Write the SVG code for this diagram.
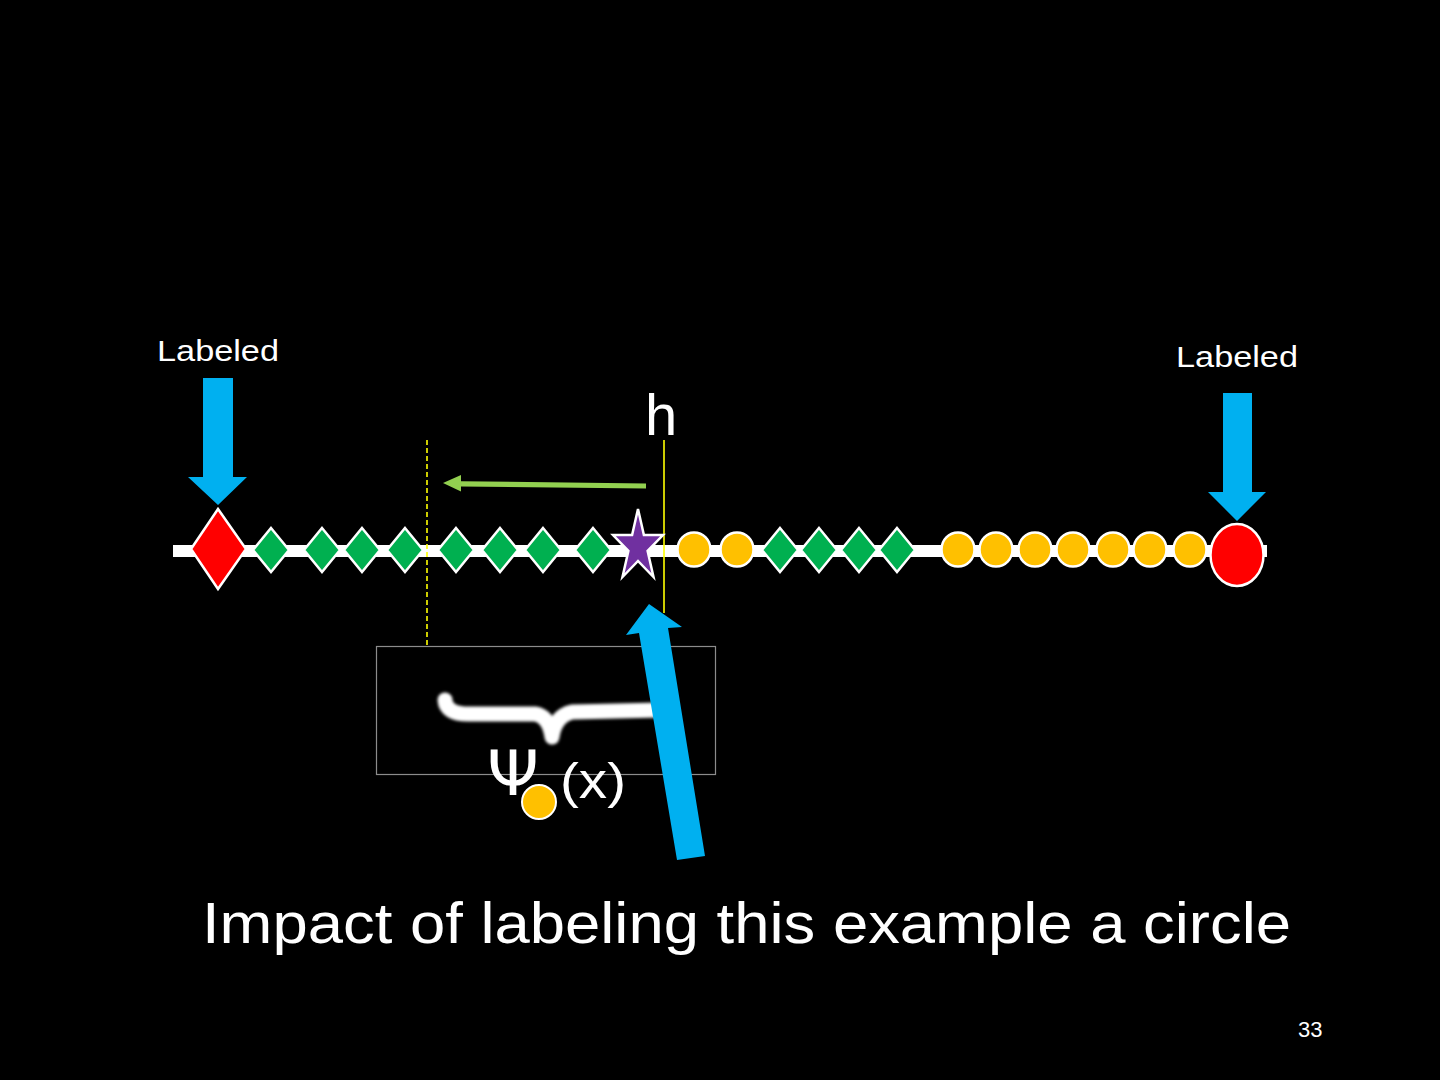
<svg xmlns="http://www.w3.org/2000/svg" width="1440" height="1080" viewBox="0 0 1440 1080">
<defs>
<style>
.txt{font-family:"Liberation Sans",Arial,sans-serif;fill:#fff}
.gd{fill:#00B050;stroke:#fff;stroke-width:2.5}
.oc{fill:#FFC000;stroke:#fff;stroke-width:2.5}
.blue{fill:#00B0F0}
</style>
<filter id="blur" x="-10%" y="-50%" width="120%" height="200%"><feGaussianBlur stdDeviation="1.6"/></filter>
</defs>
<rect width="1440" height="1080" fill="#000"/>
<g id="axis"><rect x="173" y="545" width="1094" height="12" fill="#fff"/></g>
<g id="box"><rect x="376.5" y="646.5" width="339" height="128" fill="none" stroke="#8c8c8c" stroke-width="1.2"/></g>
<g id="brace"><path d="M445,700 Q446,714 468,714 L535,714 Q549,716 552,737 Q555,716 572,712 L660,710" fill="none" stroke="#fff" stroke-width="15" stroke-linecap="round" stroke-linejoin="round" filter="url(#blur)"/></g>
<g id="connectors">
<line x1="427" y1="440" x2="427" y2="645" stroke="#FFFF00" stroke-width="1.6" stroke-dasharray="5,3"/>
<line x1="664" y1="440" x2="664" y2="613" stroke="#FFFF00" stroke-width="1.6"/>
<path d="M646,483.5 L461,481.2 L461,475 L443,483 L461,491.5 L461,486.5 L646,488.5 Z" fill="#92D050"/>
<path class="blue" d="M203,378 L233,378 L233,477 L247,477 L218,505 L188,477 L203,477 Z"/>
<path class="blue" d="M1223,393 L1252,393 L1252,492 L1266,492 L1237,521 L1208,492 L1223,492 Z"/>
<path class="blue" d="M677,860 L705,856 L668,628 L682,627 L649,604 L626,635 L639,633 Z"/>
</g>
<g id="red-diamond"><polygon points="218,509 246,549 218,589 191,549" fill="#FF0000" stroke="#fff" stroke-width="2.5"/></g>
<g id="green-diamonds">
<polygon class="gd" points="271,528 289,550 271,572 253,550"/>
<polygon class="gd" points="322,528 340,550 322,572 304,550"/>
<polygon class="gd" points="362,528 380,550 362,572 344,550"/>
<polygon class="gd" points="405,528 423,550 405,572 387,550"/>
<polygon class="gd" points="456,528 474,550 456,572 438,550"/>
<polygon class="gd" points="500,528 518,550 500,572 482,550"/>
<polygon class="gd" points="543,528 561,550 543,572 525,550"/>
<polygon class="gd" points="593,528 611,550 593,572 575,550"/>
<polygon class="gd" points="780,528 798,550 780,572 762,550"/>
<polygon class="gd" points="819,528 837,550 819,572 801,550"/>
<polygon class="gd" points="859,528 877,550 859,572 841,550"/>
<polygon class="gd" points="897,528 915,550 897,572 879,550"/>
</g>
<g id="star"><polygon points="638,509 643.9,535 663,535 647.6,551 653.5,577 638,561 622.5,577 628.4,551 613,535 632.1,535" fill="#7030A0" stroke="#fff" stroke-width="2.5"/></g>
<g id="orange-circles">
<ellipse class="oc" cx="694" cy="549.5" rx="16.5" ry="17"/>
<ellipse class="oc" cx="737" cy="549.5" rx="16.5" ry="17"/>
<ellipse class="oc" cx="958" cy="549.5" rx="16.5" ry="17"/>
<ellipse class="oc" cx="996" cy="549.5" rx="16.5" ry="17"/>
<ellipse class="oc" cx="1035" cy="549.5" rx="16.5" ry="17"/>
<ellipse class="oc" cx="1073" cy="549.5" rx="16.5" ry="17"/>
<ellipse class="oc" cx="1113" cy="549.5" rx="16.5" ry="17"/>
<ellipse class="oc" cx="1150" cy="549.5" rx="16.5" ry="17"/>
<ellipse class="oc" cx="1190" cy="549.5" rx="16.5" ry="17"/>
</g>
<g id="red-circle"><ellipse cx="1237" cy="555" rx="26.5" ry="31" fill="#FF0000" stroke="#fff" stroke-width="2.5"/></g>
<g id="labels">
<text class="txt" x="157" y="361" font-size="30" textLength="122" lengthAdjust="spacingAndGlyphs">Labeled</text>
<text class="txt" x="1176" y="367" font-size="30" textLength="122" lengthAdjust="spacingAndGlyphs">Labeled</text>
<text class="txt" x="645" y="435" font-size="58">h</text>
<text class="txt" x="487" y="795" font-size="62" textLength="52" lengthAdjust="spacingAndGlyphs" style="font-family:'DejaVu Sans',sans-serif">Ψ</text>
<text class="txt" x="560" y="798" font-size="50" textLength="66" lengthAdjust="spacingAndGlyphs">(x)</text>
<text class="txt" x="202" y="943" font-size="57" textLength="1089" lengthAdjust="spacingAndGlyphs">Impact of labeling this example a circle</text>
<text class="txt" x="1298" y="1037" font-size="22">33</text>
</g>
<g id="psi-sub"><circle cx="539" cy="802" r="17" fill="#FFC000" stroke="#fff" stroke-width="2"/></g>
</svg>
